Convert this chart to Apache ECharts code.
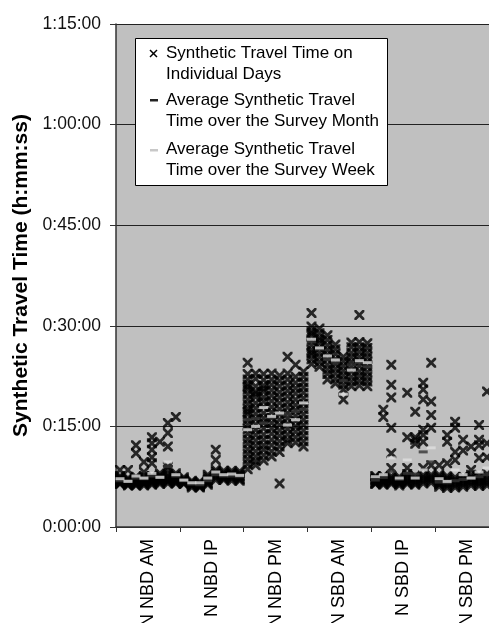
<!DOCTYPE html>
<html>
<head>
<meta charset="utf-8">
<script src="https://cdn.jsdelivr.net/npm/echarts@6/dist/echarts.min.js"></script>
<style>
html,body{margin:0;padding:0;background:#fff;}
#chart{width:489px;height:623px;}
</style>
</head>
<body>
<div id="chart"></div>
<script>
// ---- data (minutes) ----
const categories = ['N NBD AM', 'N NBD IP', 'N NBD PM', 'N SBD AM', 'N SBD IP', 'N SBD PM'];

// daily synthetic travel times, 8 time slots per category
const dailyNNbdAm = [
  [6.4, 6.6, 6.7, 6.8, 6.9, 7.0, 7.1, 7.2, 7.4, 7.6, 8.5, 6.5],
  [6.2, 6.4, 6.5, 6.6, 6.8, 6.9, 7.0, 7.1, 7.3, 8.5, 6.3],
  [6.3, 6.4, 6.6, 6.8, 6.9, 7.0, 7.2, 7.5, 12.2, 11.0, 6.2],
  [6.2, 6.4, 6.5, 6.7, 6.9, 7.1, 7.3, 7.6, 9.7, 8.2],
  [6.3, 6.5, 6.7, 6.9, 7.2, 7.4, 7.6, 13.4, 12.5, 11.5, 10.4, 9.5],
  [6.4, 6.6, 6.8, 7.0, 7.2, 7.5, 7.7, 12.7, 8.0],
  [6.5, 6.7, 6.9, 7.1, 7.3, 7.6, 7.9, 15.5, 14.0, 12.0, 8.5, 9.0],
  [6.6, 6.8, 7.0, 7.2, 7.4, 7.7, 8.0, 16.4, 6.5]
];
const dailyNNbdIp = [
  [6.4, 6.6, 6.8, 7.0, 7.2, 7.4, 6.5, 6.9],
  [5.9, 6.1, 6.3, 6.5, 6.7, 6.9, 6.2, 6.6],
  [5.9, 6.0, 6.2, 6.4, 6.6, 6.8, 6.3, 6.1],
  [6.3, 6.6, 6.9, 7.2, 7.5, 7.8, 6.5, 7.0],
  [7.0, 7.3, 7.6, 7.9, 8.2, 8.5, 11.5, 10.0],
  [7.0, 7.2, 7.5, 7.8, 8.1, 8.4, 7.3, 7.7],
  [6.9, 7.2, 7.5, 7.8, 8.1, 8.4, 7.4, 7.9],
  [6.9, 7.2, 7.5, 7.8, 8.0, 8.3, 7.6, 7.1]
];
const dailyNNbdPm = [
  [24.5, 22.8, 22.0, 21.3, 20.5, 19.8, 19.0, 18.3, 17.6, 16.8, 16.0, 15.3, 14.6, 13.9, 13.1, 12.4, 11.6, 10.9, 10.1, 9.4, 8.6, 20.9, 17.2],
  [22.9, 22.1, 21.0, 20.2, 19.4, 18.5, 17.7, 16.9, 16.1, 15.3, 14.5, 13.7, 12.9, 12.1, 11.3, 10.5, 9.8, 9.2, 19.9],
  [22.8, 21.9, 21.1, 20.2, 19.4, 18.7, 17.9, 17.0, 16.2, 15.5, 14.7, 13.8, 13.0, 12.2, 11.5, 10.7, 9.9, 20.6],
  [22.9, 22.0, 21.2, 20.4, 19.6, 18.8, 17.9, 17.1, 16.3, 15.5, 14.7, 13.9, 13.0, 12.2, 11.3, 10.5],
  [22.6, 21.8, 21.0, 20.1, 19.3, 18.5, 17.6, 16.8, 16.0, 15.2, 14.4, 13.6, 12.8, 12.0, 11.2, 6.5],
  [25.4, 22.9, 22.0, 21.1, 20.3, 19.5, 18.6, 17.8, 17.0, 16.2, 15.4, 14.6, 13.8, 13.0, 12.5],
  [24.2, 22.4, 21.5, 20.7, 19.9, 19.0, 18.2, 17.4, 16.6, 15.8, 15.0, 14.2, 13.4, 12.6],
  [23.2, 22.4, 21.6, 20.8, 20.0, 19.2, 18.4, 17.6, 16.8, 16.0, 15.2, 14.4, 13.6, 12.8, 12.0]
];
const dailyNSbdAm = [
  [31.9, 29.9, 29.2, 28.5, 27.8, 27.1, 26.4, 25.7, 25.0, 24.3, 28.9, 26.0],
  [29.6, 28.9, 28.2, 27.4, 26.7, 26.0, 25.3, 24.6, 23.9, 27.9],
  [28.6, 27.9, 27.1, 26.4, 25.7, 25.0, 24.2, 23.5, 22.8, 22.0],
  [27.2, 26.5, 25.8, 25.0, 24.3, 23.6, 22.9, 22.1, 21.4],
  [25.4, 24.7, 24.0, 23.3, 22.6, 21.9, 21.2, 20.5, 19.0],
  [27.5, 26.8, 26.0, 25.3, 24.6, 23.9, 23.2, 22.4, 21.7, 21.0],
  [31.6, 27.6, 26.8, 26.1, 25.4, 24.7, 24.0, 23.2, 22.5, 21.8, 21.1],
  [27.4, 26.7, 26.0, 25.3, 24.6, 23.9, 23.1, 22.4, 21.7, 21.0]
];
const dailyNSbdIp = [
  [6.4, 6.6, 6.8, 7.0, 7.2, 7.4, 7.6, 6.5, 7.1],
  [6.3, 6.5, 6.7, 6.9, 7.1, 7.3, 7.6, 17.5, 16.4],
  [6.4, 6.6, 6.8, 7.0, 7.3, 7.6, 24.2, 21.2, 19.3, 14.8, 11.0, 8.8],
  [6.2, 6.4, 6.6, 6.8, 7.0, 7.2, 7.5, 6.7],
  [6.4, 6.6, 6.8, 7.0, 7.3, 7.6, 20.0, 13.4, 8.8, 7.9],
  [6.3, 6.5, 6.8, 7.0, 7.3, 7.6, 17.2, 13.4, 13.0, 12.4],
  [6.5, 6.8, 7.1, 7.4, 7.7, 21.5, 19.0, 14.5, 13.7, 12.7, 8.8, 20.5],
  [6.6, 6.9, 7.2, 7.5, 7.8, 24.5, 18.7, 16.7, 14.8, 9.2]
];
const dailyNSbdPm = [
  [6.0, 6.3, 6.6, 6.9, 7.2, 7.5, 7.8, 9.2, 6.4],
  [5.8, 6.1, 6.4, 6.7, 7.0, 7.3, 7.6, 13.7, 12.7, 9.5],
  [5.9, 6.2, 6.5, 6.8, 7.1, 7.4, 15.7, 14.8, 11.2, 10.0],
  [6.0, 6.3, 6.6, 6.9, 7.2, 7.5, 13.0, 11.4],
  [6.2, 6.5, 6.8, 7.1, 7.4, 7.8, 12.0, 8.5],
  [6.1, 6.4, 6.7, 7.0, 7.3, 7.7, 15.2, 13.0, 12.2, 10.3],
  [6.2, 6.5, 6.8, 7.1, 7.5, 7.9, 20.2, 12.5, 10.4],
  [6.3, 6.6, 6.9, 7.2, 7.6, 8.0, 12.0, 14.0]
];

// average over the survey month, per slot
const monthNNbdAm = [6.9, 6.9, 7.3, 7.2, 7.6, 7.5, 9.0, 7.6];
const monthNNbdIp = [6.9, 6.4, 6.3, 6.9, 7.8, 7.6, 7.6, 7.5];
const monthNNbdPm = [16.0, 16.2, 15.5, 16.3, 16.8, 16.7, 17.2, 17.5];
const monthNSbdAm = [27.6, 26.5, 25.0, 24.6, 21.8, 24.2, 24.5, 23.9];
const monthNSbdIp = [7.0, 7.4, 8.3, 7.1, 8.0, 7.9, 11.2, 9.7];
const monthNSbdPm = [6.7, 6.6, 6.9, 7.1, 7.3, 7.5, 7.8, 7.4];

// average over the survey week, per slot
const weekNNbdAm = [7.2, 6.8, 7.6, 7.3, 8.0, 7.4, 9.7, 7.8];
const weekNNbdIp = [7.0, 6.6, 6.6, 7.3, 8.2, 7.8, 7.9, 7.7];
const weekNNbdPm = [14.5, 15.0, 17.8, 16.5, 17.0, 15.2, 16.0, 18.5];
const weekNSbdAm = [28.0, 26.7, 25.5, 24.9, 19.8, 23.4, 24.8, 24.5];
const weekNSbdIp = [7.5, 7.8, 10.3, 7.3, 10.0, 7.3, 8.5, 11.8];
const weekNSbdPm = [7.2, 6.8, 8.5, 7.8, 7.3, 8.2, 8.8, 8.0];

const yMin = 0, yMax = 75, yStep = 15;

// ---- build series data ----
const daily = [dailyNNbdAm, dailyNNbdIp, dailyNNbdPm, dailyNSbdAm, dailyNSbdIp, dailyNSbdPm];
const month = [monthNNbdAm, monthNNbdIp, monthNNbdPm, monthNSbdAm, monthNSbdIp, monthNSbdPm];
const week = [weekNNbdAm, weekNNbdIp, weekNNbdPm, weekNSbdAm, weekNSbdIp, weekNSbdPm];
const SLOTS = 8;

const dailyPts = [], monthPts = [], weekPts = [];
daily.forEach((cat, c) => cat.forEach((vals, i) => vals.forEach(v => dailyPts.push([c * SLOTS + i + 0.5, v]))));
month.forEach((cat, c) => cat.forEach((v, i) => monthPts.push([c * SLOTS + i + 0.5, v])));
week.forEach((cat, c) => cat.forEach((v, i) => weekPts.push([c * SLOTS + i + 0.5, v])));

function fmt(v) {
  const h = Math.floor(v / 60);
  const m = Math.round(v % 60);
  return h + ':' + (m < 10 ? '0' : '') + m + ':00';
}

const FONT = "'Liberation Sans', Arial, sans-serif";
const X_PATH = 'path://M0,0L2,0L5,3L8,0L10,0L10,2L7,5L10,8L10,10L8,10L5,7L2,10L0,10L0,8L3,5L0,2Z';

const chart = echarts.init(document.getElementById('chart'), null, {renderer: 'canvas'});
chart.setOption({
  animation: false,
  grid: {
    left: 116, top: 24, width: 383, height: 503,
    outerBoundsMode: 'none', containLabel: false,
    show: true, backgroundColor: '#c0c0c0', borderWidth: 0
  },
  xAxis: [
    {
      type: 'category',
      data: categories,
      boundaryGap: true,
      position: 'bottom',
      axisLine: {show: true, lineStyle: {color: '#333', width: 1.5}},
      axisTick: {show: true, length: 5, lineStyle: {color: '#333'}},
      axisLabel: {rotate: 90, margin: 12, color: '#000', fontSize: 18, fontFamily: FONT, interval: 0},
      splitLine: {show: false}
    },
    {
      type: 'value', min: 0, max: categories.length * SLOTS, show: false,
      splitLine: {show: false}
    }
  ],
  yAxis: {
    type: 'value', min: yMin, max: yMax, interval: yStep,
    name: 'Synthetic Travel Time (h:mm:ss)',
    nameLocation: 'middle', nameGap: 78,
    nameTextStyle: {fontSize: 21, fontWeight: 'bold', color: '#000', fontFamily: FONT},
    axisLine: {show: true, lineStyle: {color: '#333', width: 1.5}},
    axisTick: {show: true, length: 6, lineStyle: {color: '#333'}},
    axisLabel: {formatter: fmt, color: '#111', fontSize: 17.5, fontFamily: FONT, margin: 15},
    splitLine: {show: true, lineStyle: {color: '#222', width: 1}}
  },
  series: [
    {
      name: 'Synthetic Travel Time on Individual Days',
      type: 'scatter', xAxisIndex: 1, data: dailyPts,
      symbol: X_PATH, symbolSize: 10, itemStyle: {color: '#000'}, z: 2,
      silent: true
    },
    {
      name: 'Average Synthetic Travel Time over the Survey Month',
      type: 'scatter', xAxisIndex: 1, data: monthPts,
      symbol: 'rect', symbolSize: [9, 3], itemStyle: {color: '#333'}, z: 3,
      silent: true
    },
    {
      name: 'Average Synthetic Travel Time over the Survey Week',
      type: 'scatter', xAxisIndex: 1, data: weekPts,
      symbol: 'rect', symbolSize: [9, 3], itemStyle: {color: '#dedede'}, z: 4,
      silent: true
    }
  ],
  graphic: [
    {type: 'rect', left: 135, top: 38, shape: {width: 252, height: 147},
     style: {fill: '#fff', stroke: '#000', lineWidth: 1}, z: 100},
    {type: 'line', shape: {x1: 150, y1: 50, x2: 157, y2: 57}, style: {stroke: '#000', lineWidth: 1.5}, z: 101},
    {type: 'line', shape: {x1: 157, y1: 50, x2: 150, y2: 57}, style: {stroke: '#000', lineWidth: 1.5}, z: 101},
    {type: 'text', x: 166, y: 43, z: 101,
     style: {text: 'Synthetic Travel Time on\nIndividual Days', fontSize: 17, lineHeight: 21, fontFamily: FONT, fill: '#000'}},
    {type: 'rect', shape: {x: 150, y: 99, width: 8, height: 2.5}, style: {fill: '#222'}, z: 101},
    {type: 'text', x: 166, y: 90, z: 101,
     style: {text: 'Average Synthetic Travel\nTime over the Survey Month', fontSize: 17, lineHeight: 21, fontFamily: FONT, fill: '#000'}},
    {type: 'rect', shape: {x: 150, y: 149, width: 8, height: 2.5}, style: {fill: '#c8c8c8'}, z: 101},
    {type: 'text', x: 166, y: 139, z: 101,
     style: {text: 'Average Synthetic Travel\nTime over the Survey Week', fontSize: 17, lineHeight: 21, fontFamily: FONT, fill: '#000'}}
  ]
});
</script>
</body>
</html>
